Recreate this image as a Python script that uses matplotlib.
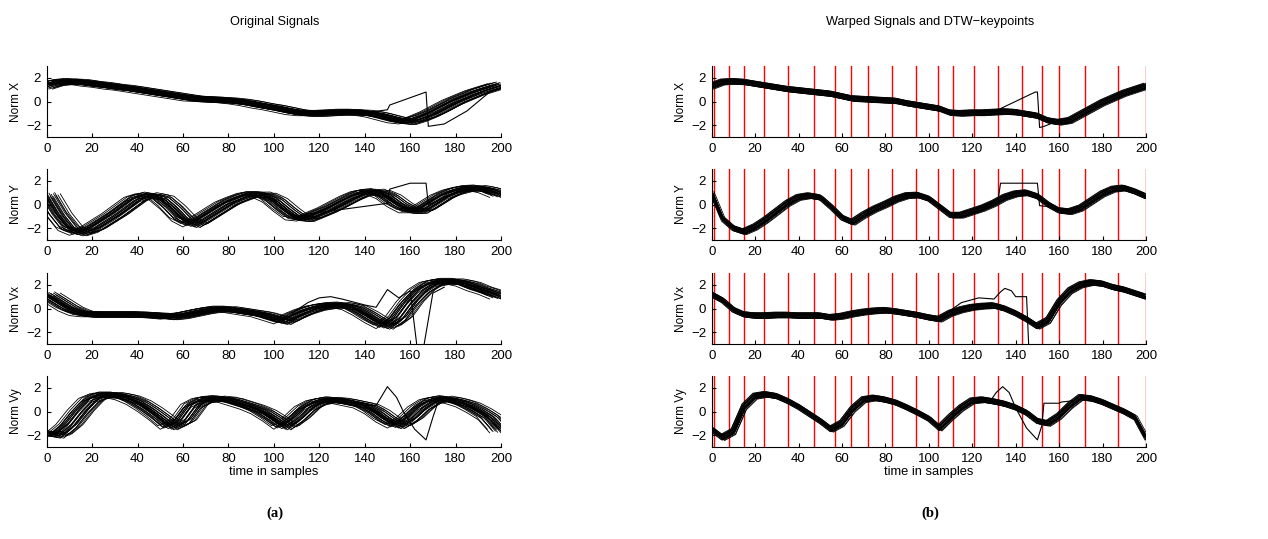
import matplotlib
matplotlib.use("Agg")
import matplotlib.pyplot as plt
import numpy as np

plt.rcParams['font.family'] = ['Liberation Sans', 'DejaVu Sans']

# time grid of the read values (every 5 samples)
t = list(range(0, 201, 5))

# ---- (a) original signals, bundle centre curves ----
orig_x = [1.3, 1.6, 1.7, 1.65, 1.5, 1.4, 1.25, 1.15, 1.0, 0.85, 0.7, 0.55, 0.4, 0.25, 0.2, 0.15,
          0.1, 0.0, -0.15, -0.35, -0.5, -0.7, -0.9, -1.0, -1.0, -0.95, -0.9, -0.9, -0.95, -1.1,
          -1.35, -1.6, -1.7, -1.4, -1.0, -0.5, 0.0, 0.4, 0.8, 1.1, 1.4]
orig_y = [0.8, -0.8, -2.0, -2.4, -2.1, -1.5, -0.9, -0.2, 0.5, 0.8, 0.6, -0.2, -1.2, -1.7, -1.1,
          -0.5, 0.1, 0.5, 0.85, 0.85, 0.4, -0.4, -1.1, -1.2, -0.8, -0.4, 0.1, 0.6, 1.0, 1.1, 0.7,
          0.0, -0.5, -0.5, 0.1, 0.7, 1.1, 1.35, 1.4, 1.2, 0.8]
orig_vx = [1.2, 0.6, 0.0, -0.4, -0.5, -0.5, -0.5, -0.5, -0.5, -0.55, -0.6, -0.7, -0.6, -0.4,
           -0.2, -0.05, -0.05, -0.2, -0.35, -0.5, -0.8, -1.1, -0.6, -0.2, 0.1, 0.25, 0.3, 0.1,
           -0.4, -1.0, -1.5, -0.8, 0.5, 1.5, 2.1, 2.3, 2.3, 2.1, 1.7, 1.4, 1.0]
orig_vy = [-1.8, -2.0, -1.2, 0.0, 1.0, 1.4, 1.4, 1.2, 0.8, 0.2, -0.5, -1.3, -0.8, 0.5, 1.0, 1.1,
           1.0, 0.7, 0.4, 0.0, -0.6, -1.3, -0.6, 0.3, 0.8, 1.0, 0.9, 0.7, 0.5, 0.0, -0.7, -1.2,
           -0.6, 0.3, 0.9, 1.1, 0.9, 0.6, 0.1, -0.5, -1.6]

# ---- (b) warped signals, bundle centre curves ----
warp_x = [1.3, 1.65, 1.7, 1.65, 1.5, 1.35, 1.2, 1.05, 0.95, 0.85, 0.75, 0.65, 0.45, 0.25, 0.2,
          0.15, 0.1, 0.05, -0.15, -0.3, -0.45, -0.6, -0.95, -1.0, -0.95, -0.95, -0.9, -0.85,
          -0.9, -1.05, -1.2, -1.6, -1.75, -1.6, -1.1, -0.6, -0.1, 0.3, 0.7, 1.0, 1.3]
warp_y = [1.0, -1.2, -2.0, -2.3, -1.9, -1.3, -0.6, 0.1, 0.6, 0.75, 0.6, -0.2, -1.1, -1.5, -0.9,
          -0.4, 0.0, 0.45, 0.75, 0.8, 0.5, -0.2, -0.9, -0.9, -0.6, -0.3, 0.1, 0.6, 0.9, 1.0, 0.7,
          0.0, -0.5, -0.6, -0.3, 0.3, 0.9, 1.3, 1.4, 1.1, 0.7]
warp_vx = [1.2, 0.7, -0.1, -0.5, -0.6, -0.6, -0.55, -0.55, -0.6, -0.6, -0.6, -0.75, -0.65,
           -0.45, -0.3, -0.2, -0.15, -0.25, -0.4, -0.55, -0.75, -0.9, -0.4, -0.1, 0.1, 0.2, 0.25,
           0.0, -0.4, -0.9, -1.5, -1.0, 0.5, 1.5, 2.0, 2.2, 2.1, 1.8, 1.6, 1.3, 1.0]
warp_vy = [-1.5, -2.2, -1.7, 0.4, 1.3, 1.45, 1.3, 0.9, 0.4, -0.2, -0.8, -1.5, -1.0, 0.2, 1.0,
           1.15, 1.0, 0.75, 0.35, -0.1, -0.6, -1.4, -0.5, 0.3, 0.9, 1.0, 0.85, 0.65, 0.35, -0.1,
           -0.8, -1.0, -0.4, 0.5, 1.2, 1.1, 0.8, 0.4, 0.0, -0.5, -2.2]

# spread of the individual signals around the centre (time shift, level offset)
shift_a = [-6, -5, -4.5, -4, -3.5, -3, -2.5, -2, -1.5, -1, -0.5, 0, 0.5, 1, 1.5, 2, 2.5, 3,
           3.5, 4, 5, 6, -2, 1, 3, -1, 0]
offset_a = [0.1, -0.2, 0.15, 0.0, -0.1, 0.2, -0.05, 0.1, -0.15, 0.05, 0.2, -0.2, 0.0, 0.15,
            -0.1, 0.05, -0.25, 0.1, 0.2, -0.05, 0.0, 0.1, 0.25, -0.25, -0.15, 0.12, -0.08]
shift_b = [-1, -0.5, 0, 0.5, 1, 0, -1, 1, 0.5, -0.5, 0, 0, 1, -1, 0.5, -0.5, 0, 0.5, -0.5, 0]
offset_b = [0.25, -0.2, 0.15, -0.1, 0.1, 0.0, 0.2, -0.25, -0.05, 0.05, -0.15, 0.22, -0.18,
            0.08, -0.12, 0.12, 0.03, -0.03, 0.18, -0.22]

# one outlier signal per channel (time, value)
out_a_t = [[140, 150, 151, 167, 168, 175, 185, 195],
           [110, 115, 150, 151, 160, 167, 168, 172, 180, 190, 200],
           [108, 115, 120, 125, 130, 140, 145, 150, 155, 160, 163, 166, 170, 175],
           [140, 145, 150, 154, 157, 162, 167, 170, 173, 180]]
out_a_v = [[-0.95, -0.7, -0.3, 0.8, -2.1, -1.9, -0.8, 0.8],
           [-1.1, -0.8, 0.1, 1.3, 1.8, 1.8, 0.0, 0.3, 1.0, 1.3, 0.9],
           [-0.4, 0.5, 0.9, 1.0, 0.8, 0.3, 0.1, 1.6, 0.9, 1.5, -3.2, -3.2, 1.3, 1.8],
           [0.5, 0.5, 2.1, 1.2, 0.0, -1.5, -2.4, -0.5, 1.2, 1.0]]
out_b_t = [[130, 133, 149, 150, 151, 153, 158],
           [125, 132, 133, 150, 151, 156],
           [105, 115, 123, 130, 133, 135, 138, 140, 145, 146],
           [125, 128, 131, 134, 137, 140, 145, 150, 152, 153, 160, 161, 166]]
out_b_v = [[-0.9, -0.6, 0.8, 0.8, -2.2, -2.1, -1.75],
           [-0.3, 0.5, 1.8, 1.8, -0.1, -0.2],
           [-0.8, 0.5, 0.9, 0.8, 1.4, 1.7, 1.5, 1.0, 1.0, -3.2],
           [0.9, 0.8, 1.6, 2.1, 1.6, 0.3, -1.4, -2.4, -1.2, 0.7, 0.7, 0.8, 0.9]]

keypoints = [1, 8, 15, 24, 35, 47, 57, 64, 72, 83, 94, 104, 111, 121, 132, 143, 152, 160, 172,
             187, 200]

labels = ['Norm X', 'Norm Y', 'Norm Vx', 'Norm Vy']
orig = [orig_x, orig_y, orig_vx, orig_vy]
warp = [warp_x, warp_y, warp_vx, warp_vy]

fig = plt.figure(figsize=(12.68, 5.39), dpi=100)

W, H = 1268, 539
tops = [66, 169, 273, 376]
ah = 71
panels = [(46.7, 454.3, orig, shift_a, offset_a, out_a_t, out_a_v, False),
          (711.7, 434.3, warp, shift_b, offset_b, out_b_t, out_b_v, True)]

for (x0, w, curves, shifts, offs, ot, ov, keys) in panels:
    for i in range(4):
        ax = fig.add_axes([x0 / W, 1 - (tops[i] + ah) / H, w / W, ah / H])
        if keys:
            for k in keypoints:
                ax.axvline(k, color='red', lw=1.0, zorder=1)
        c = np.array(curves[i])
        for s, o in zip(shifts, offs):
            ax.plot(np.array(t) + s, c + o, color='black', lw=0.6, zorder=2)
        ax.plot(ot[i], ov[i], color='black', lw=0.8, zorder=2)
        ax.set_xlim(0, 200)
        ax.set_ylim(-3, 3)
        ax.set_xticks(range(0, 201, 20))
        ax.set_yticks([-2, 0, 2])
        ax.set_yticklabels(['\u22122', '0', '2'])
        ax.spines['top'].set_visible(False)
        ax.spines['right'].set_visible(False)
        ax.tick_params(direction='in', length=3, labelsize=9.5, width=0.8, pad=4)
        ax.set_ylabel(labels[i], fontsize=8.5, labelpad=3)
        if i == 3:
            ax.set_xlabel('time in samples', fontsize=9.3, labelpad=1)

fig.text(275 / W, 1 - 22 / H, 'Original Signals', ha='center', va='center', fontsize=9.2)
fig.text(930 / W, 1 - 22 / H, 'Warped Signals and DTW\u2212keypoints', ha='center',
         va='center', fontsize=9.2)
fig.text(275 / W, 1 - 513 / H, '(a)', ha='center', va='center', fontsize=10.5,
         fontweight='bold', family=['Liberation Serif', 'DejaVu Serif'])
fig.text(930 / W, 1 - 513 / H, '(b)', ha='center', va='center', fontsize=10.5,
         fontweight='bold', family=['Liberation Serif', 'DejaVu Serif'])

fig.savefig('out.png', dpi=100)
